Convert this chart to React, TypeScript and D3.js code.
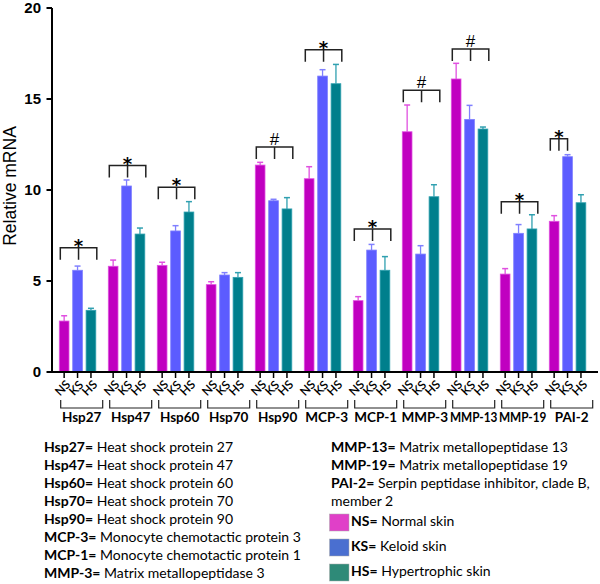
import React from "react";
import * as d3 from "d3";

const genes = ["Hsp27", "Hsp47", "Hsp60", "Hsp70", "Hsp90", "MCP-3", "MCP-1", "MMP-3", "MMP-13", "MMP-19", "PAI-2"];
const groups = ["NS", "KS", "HS"];
const nsMean = [2.8, 5.81, 5.86, 4.8, 11.37, 10.62, 3.92, 13.2, 16.1, 5.38, 8.28];
const nsErr = [0.29, 0.34, 0.17, 0.16, 0.15, 0.66, 0.22, 1.47, 0.86, 0.3, 0.31];
const ksMean = [5.59, 10.22, 7.75, 5.33, 9.41, 16.26, 6.7, 6.48, 13.88, 7.62, 11.83];
const ksErr = [0.23, 0.33, 0.29, 0.13, 0.08, 0.35, 0.31, 0.46, 0.77, 0.48, 0.11];
const hsMean = [3.39, 7.58, 8.79, 5.2, 8.96, 15.84, 5.59, 9.63, 13.35, 7.86, 9.3];
const hsErr = [0.11, 0.33, 0.57, 0.26, 0.62, 1.06, 0.75, 0.66, 0.11, 0.78, 0.44];
const sigSymbol = ["*", "*", "*", "", "#", "*", "*", "#", "#", "*", "*"];
const sigLevel = [6.83, 11.34, 10.15, 0, 12.36, 17.71, 7.86, 15.48, 17.75, 9.36, 12.82];
const sigSpan = [3, 3, 3, 0, 3, 3, 3, 3, 3, 3, 2];
const yTicks = [0, 5, 10, 15, 20];

const defsLeft = [
  ["Hsp27=", "Heat shock protein 27"],
  ["Hsp47=", "Heat shock protein 47"],
  ["Hsp60=", "Heat shock protein 60"],
  ["Hsp70=", "Heat shock protein 70"],
  ["Hsp90=", "Heat shock protein 90"],
  ["MCP-3=", "Monocyte chemotactic protein 3"],
  ["MCP-1=", "Monocyte chemotactic protein 1"],
  ["MMP-3=", "Matrix metallopeptidase 3"],
];
const defsRight = [
  ["MMP-13=", "Matrix metallopeptidase 13"],
  ["MMP-19=", "Matrix metallopeptidase 19"],
  ["PAI-2=", "Serpin peptidase inhibitor, clade B,"],
  ["", "member 2"],
];
const legendItems = [
  ["NS=", "Normal skin"],
  ["KS=", "Keloid skin"],
  ["HS=", "Hypertrophic skin"],
];

const barFill = ["#c000c0", "#5c5cff", "#007f8c"];
const barEdge = ["#e050e0", "#8080ff", "#30a0b0"];
const legendFill = ["#e040c8", "#4a6fd0", "#2e8a78"];

const means = [nsMean, ksMean, hsMean];
const errs = [nsErr, ksErr, hsErr];

export default function App() {
  const W = 600, H = 584;
  const y = d3.scaleLinear().domain([0, 20]).range([372, 8]);
  const x0 = d3.scaleBand().domain(genes).range([56, 56 + 49 * genes.length]).paddingInner(0).paddingOuter(0);
  const x1 = d3.scaleBand().domain(groups).range([3.3, 39.8]).paddingInner(0.276).paddingOuter(0);
  const bw = x1.bandwidth();
  const labelFont = "Lato, 'Open Sans', sans-serif";

  return (
    <svg width={W} height={H} style={{ position: "absolute", left: 0, top: 0, background: "#fff" }}>
      {/* y axis */}
      <line x1={52} x2={52} y1={y(0)} y2={y(20)} stroke="#000" strokeWidth={2} />
      {yTicks.map((t) => (
        <g key={t}>
          <line x1={46.5} x2={52} y1={y(t)} y2={y(t)} stroke="#000" strokeWidth={2} />
          <text x={41} y={y(t)} dy="0.36em" textAnchor="end" fontFamily="Arial, 'Liberation Sans', sans-serif" fontWeight="bold" fontSize={15}>{t}</text>
        </g>
      ))}
      <text transform={`translate(16,${186}) rotate(-90)`} textAnchor="middle" fontFamily="Arial, 'Liberation Sans', sans-serif" fontSize={17.5}>Relative mRNA</text>

      {/* bars */}
      {genes.map((g, gi) => (
        <g key={g} transform={`translate(${x0(g)},0)`}>
          {groups.map((s, si) => {
            const m = means[si][gi];
            const e = errs[si][gi];
            const bx = x1(s)!;
            const cx = bx + bw / 2;
            return (
              <g key={s}>
                <line x1={cx} x2={cx} y1={y(m)} y2={y(m + e)} stroke={barEdge[si]} strokeWidth={1.3} />
                <line x1={cx - 3} x2={cx + 3} y1={y(m + e)} y2={y(m + e)} stroke={barEdge[si]} strokeWidth={1.5} />
                <rect x={bx} y={y(m)} width={bw} height={y(0) - y(m)} fill={barFill[si]} stroke={barEdge[si]} strokeWidth={0.8} />
                <line x1={cx} x2={cx} y1={372} y2={378} stroke="#000" strokeWidth={1.5} />
                <text transform={`translate(${cx + 1.5},${391}) rotate(-45)`} textAnchor="middle" fontFamily={labelFont} fontWeight={600} fontSize={12} fill="#000">{s}</text>
              </g>
            );
          })}
          {/* group bracket below */}
          <path d={`M${4.7},400 V408 H${46.7} V400`} fill="none" stroke="#222" strokeWidth={1.2} />
          <text x={25.7} y={422} textAnchor="middle" fontFamily={labelFont} fontWeight="bold" fontSize={13.5} textLength={g.length > 5 ? 47.5 : undefined} lengthAdjust="spacingAndGlyphs">{g}</text>
          {/* significance bracket */}
          {sigSpan[gi] > 0 && (() => {
            const left = x1("NS")! + 1;
            const lastBand = x1(groups[sigSpan[gi] - 1])!;
            const right = sigSpan[gi] === 3 ? lastBand + bw + 1 : lastBand + bw / 2;
            const mid = (left + right) / 2;
            const yb = y(sigLevel[gi]);
            return (
              <g>
                <path d={`M${left},${yb + 12} V${yb} H${right} V${yb + 12} M${mid},${yb} V${yb + 12}`} fill="none" stroke="#222" strokeWidth={1.5} />
                {sigSymbol[gi] === "*" ? (
                  <text x={mid} y={yb + 4} textAnchor="middle" fontFamily="'DejaVu Sans', sans-serif" fontWeight="bold" fontSize={18}>*</text>
                ) : (
                  <text x={mid} y={yb - 2} textAnchor="middle" fontFamily="Arial, 'Liberation Sans', sans-serif" fontSize={17}>#</text>
                )}
              </g>
            );
          })()}
        </g>
      ))}

      {/* x axis */}
      <line x1={51} x2={598} y1={372} y2={372} stroke="#000" strokeWidth={2} />

      {/* definitions */}
      {defsLeft.map((d, i) => (
        <text key={i} x={44} y={452 + i * 18} fontFamily={labelFont} fontSize={14} fill="#000">
          <tspan fontWeight="bold">{d[0]}</tspan> {d[1]}
        </text>
      ))}
      {defsRight.map((d, i) => (
        <text key={i} x={331} y={452 + i * 18} fontFamily={labelFont} fontSize={14} fill="#000">
          {d[0] ? <tspan fontWeight="bold">{d[0]}</tspan> : null}{d[0] ? " " : ""}{d[1]}
        </text>
      ))}
      {legendItems.map((d, i) => (
        <g key={i}>
          <rect x={329.5} y={514 + i * 25} width={19.5} height={17} fill={legendFill[i]} stroke="#aaa" strokeWidth={0.5} />
          <text x={351} y={526 + i * 25} fontFamily={labelFont} fontSize={14} fill="#000">
            <tspan fontWeight="bold">{d[0]}</tspan> {d[1]}
          </text>
        </g>
      ))}
    </svg>
  );
}
